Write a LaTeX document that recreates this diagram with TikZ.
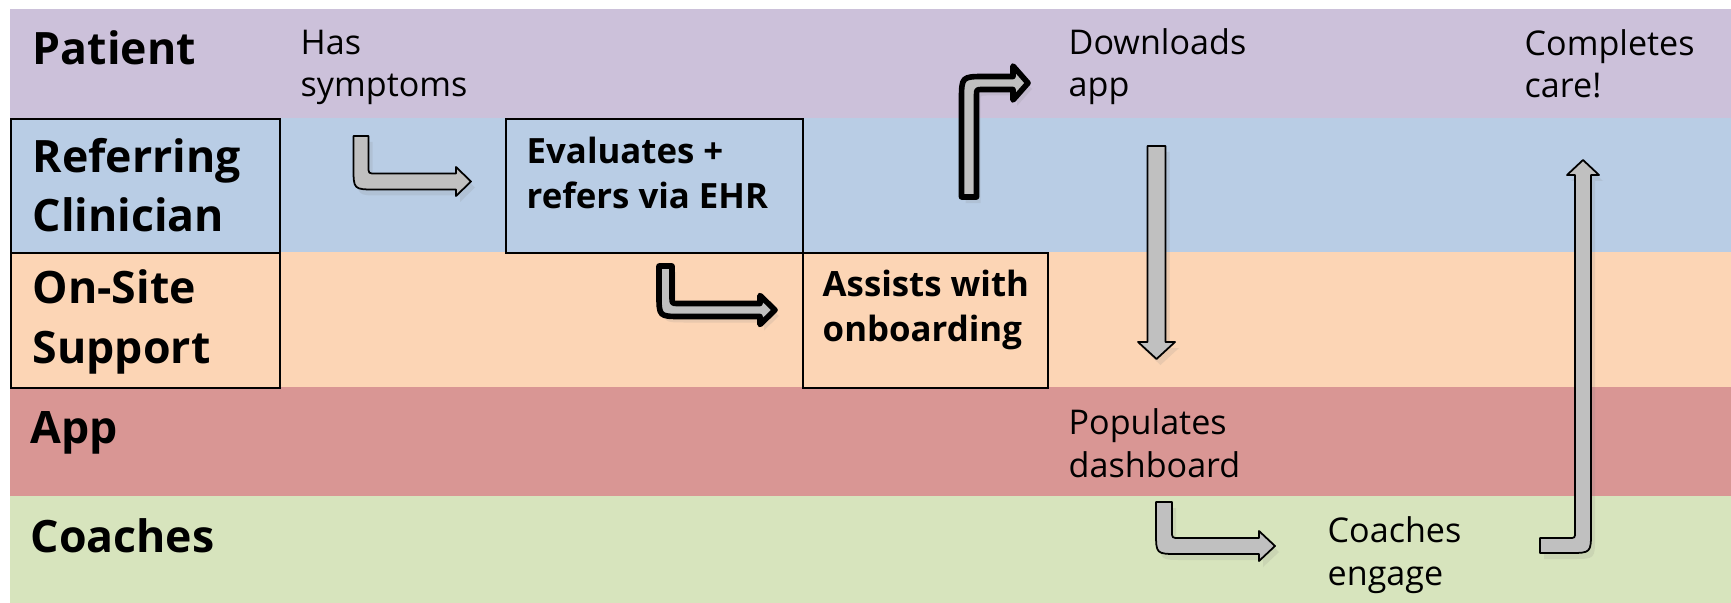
\documentclass[tikz,border=0pt]{standalone}
\usepackage{fontspec}
\setmainfont{Open Sans}
\usepackage{tikz}
\usetikzlibrary{shadows}

\definecolor{patientlane}{HTML}{CCC1DA}
\definecolor{cliniclane}{HTML}{B9CDE5}
\definecolor{sitelane}{HTML}{FCD5B5}
\definecolor{applane}{HTML}{D99694}
\definecolor{coachlane}{HTML}{D7E4BD}
\definecolor{arrowgray}{HTML}{C0C0C0}

\begin{document}
\begin{tikzpicture}[
		    x=0.1mm, y=-0.1mm,
		    lanename/.style={anchor=base west, inner sep=0pt, align=left, font=\fontsize{12.7}{16.8}\selectfont\bfseries},
		    stagetext/.style={anchor=base west, inner sep=0pt, align=left, font=\fontsize{9.7}{12}\selectfont},
		    boxtext/.style={anchor=base west, inner sep=0pt, align=left, font=\fontsize{9.9}{12.8}\selectfont\bfseries}
		]
		\tikzset{
		    frame/.style={draw=black, line width=0.6pt, inner sep=0pt, anchor=north west},
		    flow/.style={fill=arrowgray, draw=black, line width=0.5pt, line join=round,
		        drop shadow={shadow xshift=0.4mm, shadow yshift=-0.6mm, opacity=0.15}},
		    boldflow/.style={flow, line width=1.6pt}
		}
		\useasboundingbox (0,0) rectangle (1731,603);
		% lanes
		\fill[patientlane] (10,9) rectangle (1731,118);
		\fill[cliniclane] (10,118) rectangle (1731,252);
		\fill[sitelane] (10,252) rectangle (1731,387);
		\fill[applane] (10,387) rectangle (1731,496);
		\fill[coachlane] (10,496) rectangle (1731,603);
		% boxes
		\node[frame, minimum width=26.9mm, minimum height=13.4mm] (clinbox) at (10,118) {};
		\node[frame, minimum width=26.9mm, minimum height=13.5mm] (sitebox) at (10,252) {};
		\node[frame, minimum width=29.7mm, minimum height=13.4mm] (evalbox) at (505,118) {};
		\node[frame, minimum width=24.5mm, minimum height=13.5mm] (assistbox) at (802,252) {};
		% lane names (base = last line)
		\node[lanename] (patient) at (32,65) {Patient};
		\node[lanename] (clinician) at (32,232) {Referring\\Clinician};
		\node[lanename] (onsite) at (32,363) {On-Site\\Support};
		\node[lanename] (app) at (30,443) {App};
		\node[lanename] (coaches) at (30,552) {Coaches};
		% stages
		\node[stagetext] (symptoms) at (300,97) {Has\\symptoms};
		\node[boxtext] (evaluates) at (526,208) {Evaluates +\\refers via EHR};
		\node[boxtext] (assists) at (822,341) {Assists with\\onboarding};
		\node[stagetext] (downloads) at (1068,97) {Downloads\\app};
		\node[stagetext] (completes) at (1524,98) {Completes\\care!};
		\node[stagetext] (populates) at (1068,477) {Populates\\dashboard};
		\node[stagetext] (engage) at (1327,585) {Coaches\\engage};
		% arrows
		\draw[flow] (353.5,136) -- (353.5,167.5) .. controls (353.5,189.5) .. (375.5,189.5) -- (456,189.5) -- (456,196)
		    -- (471,181.5) -- (456,167) -- (456,173.5) -- (375.5,173.5) .. controls (368.5,173.5) .. (368.5,166.5) -- (368.5,136) -- cycle;
		\draw[boldflow] (659,266) -- (659,294.5) .. controls (659,316.5) .. (681,316.5) -- (760,316.5) -- (760,324.5)
		    -- (775,310) -- (760,295.5) -- (760,303.5) -- (678,303.5) .. controls (672,303.5) .. (672,297.5) -- (672,266) -- cycle;
		\draw[boldflow] (961.5,197) -- (961.5,100.5) .. controls (961.5,76.5) .. (985.5,76.5) -- (1013,76.5) -- (1013,66)
		    -- (1028,83) -- (1013,100) -- (1013,89.5) -- (982.5,89.5) .. controls (976.5,89.5) .. (976.5,95.5) -- (976.5,197) -- cycle;
		\draw[flow] (1147.5,146) -- (1147.5,342) -- (1138,342) -- (1156.5,359) -- (1175,342) -- (1165.5,342) -- (1165.5,146) -- cycle;
		\draw[flow] (1156,502) -- (1156,532) .. controls (1156,554) .. (1178,554) -- (1259,554) -- (1259,561)
		    -- (1275,546) -- (1259,531) -- (1259,538) -- (1179,538) .. controls (1172,538) .. (1172,531) -- (1172,502) -- cycle;
		\draw[flow] (1540,538) -- (1569,538) .. controls (1575,538) .. (1575,532) -- (1575,175) -- (1567,175)
		    -- (1583,160) -- (1599,175) -- (1591,175) -- (1591,531) .. controls (1591,553) .. (1569,553) -- (1540,553) -- cycle;
		\end{tikzpicture}
\end{document}
